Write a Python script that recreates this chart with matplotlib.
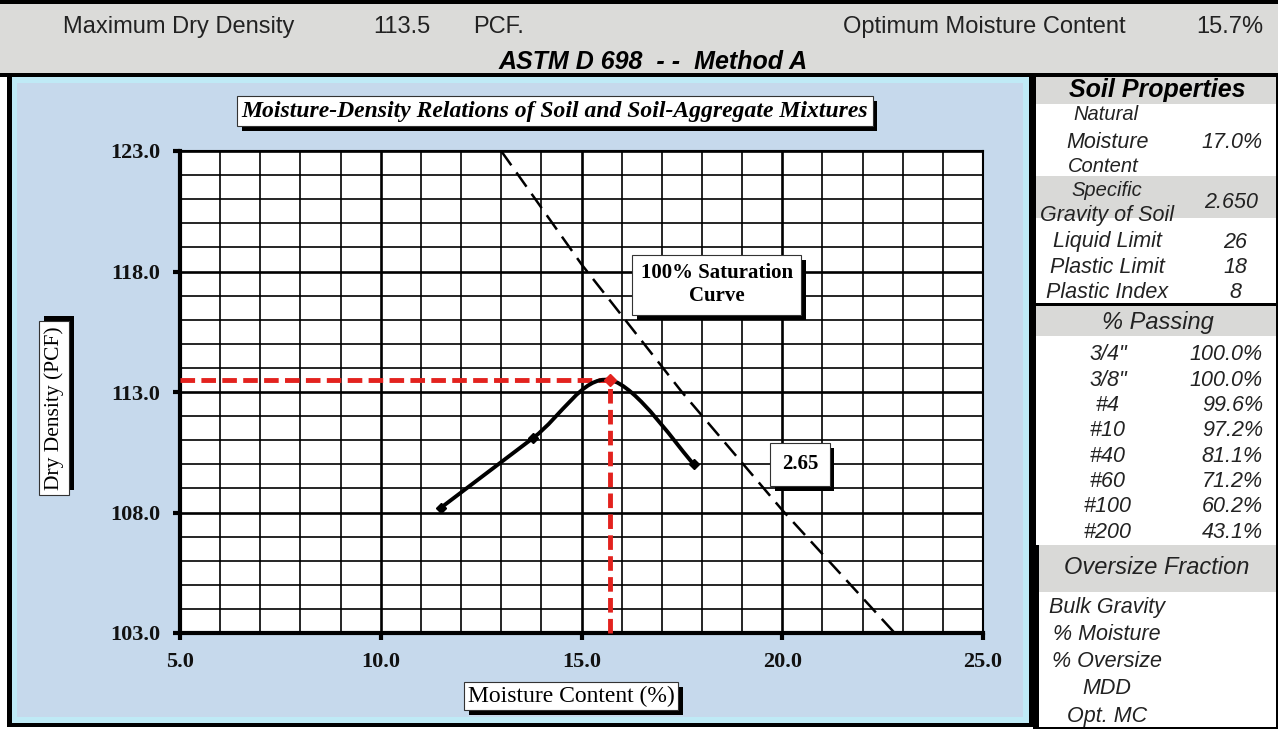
import matplotlib
matplotlib.use("Agg")
import matplotlib.pyplot as plt
import matplotlib.patheffects as pe
from matplotlib.patches import Rectangle, PathPatch
from matplotlib.path import Path
from matplotlib.ticker import MultipleLocator

# compaction test points
moisture = [11.5, 13.8, 15.7, 17.8]
dry_density = [108.2, 111.1, 113.5, 110.0]
max_dry_density = 113.5
opt_moisture = 15.7

# 100% saturation line (Gs = 2.65)
zav_moisture = [13.0, 15.0, 17.5, 20.0, 22.8]
zav_density = [123.0, 118.3, 113.0, 108.1, 103.0]

x_ticks = [5.0, 10.0, 15.0, 20.0, 25.0]
y_ticks = [103.0, 108.0, 113.0, 118.0, 123.0]

natural_moisture = "17.0%"
specific_gravity = "2.650"
limit_names = ["Liquid Limit", "Plastic Limit", "Plastic Index"]
limit_values = ["26", "18", "8"]
sieves = ['3/4"', '3/8"', "#4", "#10", "#40", "#60", "#100", "#200"]
passing = [100.0, 100.0, 99.6, 97.2, 81.1, 71.2, 60.2, 43.1]
oversize_rows = ["Bulk Gravity", "% Moisture", "% Oversize", "MDD", "Opt. MC"]

W, H = 1278, 729
SERIF = "Liberation Serif"
SANS = "Liberation Sans"
RED = "#E3221E"

fig = plt.figure(figsize=(W / 100, H / 100), dpi=100)
fig.patch.set_facecolor("white")


def rect(x0, y0, x1, y1, color, z=-5):
    # rectangle given in pixels, y measured from the top
    fig.add_artist(Rectangle((x0 / W, 1 - y1 / H), (x1 - x0) / W, (y1 - y0) / H,
                             transform=fig.transFigure, facecolor=color,
                             edgecolor="none", zorder=z))


def txt(x, y, s, **kw):
    kw.setdefault("va", "center")
    return fig.text(x / W, 1 - y / H, s, **kw)


def shadow(t, off=(3.5, -3.5)):
    t.get_bbox_patch().set_path_effects(
        [pe.SimplePatchShadow(offset=off, shadow_rgbFace="black", alpha=1.0), pe.Normal()])


def smooth_path(xs, ys):
    # smoothed line like a spreadsheet chart: cubic bezier through every point
    pts = list(zip(xs, ys))
    verts, codes = [pts[0]], [Path.MOVETO]
    for i in range(len(pts) - 1):
        p0 = pts[max(i - 1, 0)]
        p1, p2 = pts[i], pts[i + 1]
        p3 = pts[min(i + 2, len(pts) - 1)]
        c1 = (p1[0] + (p2[0] - p0[0]) / 6, p1[1] + (p2[1] - p0[1]) / 6)
        c2 = (p2[0] - (p3[0] - p1[0]) / 6, p2[1] - (p3[1] - p1[1]) / 6)
        verts += [c1, c2, p2]
        codes += [Path.CURVE4] * 3
    return Path(verts, codes)


# header band
rect(0, 0, W, 4, "black")
rect(0, 4, W, 73, "#DBDBD9")
rect(0, 73, W, 77, "black")
hk = dict(family=SANS, fontsize=17, color="#222222")
txt(63, 27, "Maximum Dry Density", **hk)
txt(373, 27, f"{max_dry_density}", **hk)
txt(473, 27, "PCF.", **hk)
txt(843, 27, "Optimum Moisture Content", **hk)
txt(1263, 27, f"{opt_moisture}%", ha="right", **hk)
txt(653, 62, "ASTM D 698  - -  Method A", family=SANS, fontsize=18,
    fontweight="bold", fontstyle="italic", ha="center")

# chart panel
rect(7, 73, 1033, 727, "black")
rect(12, 77, 1029, 723, "#BFEAF6")
rect(17, 83, 1023, 717, "#C6D9EC")

# right hand table
rect(1033, 77, W, 729, "black")
rect(1036, 77, W - 2, 727, "white")
rect(1036, 77, W - 2, 104, "#D9D9D7")
rect(1036, 176, W - 2, 218, "#D9D9D7")
rect(1036, 303, W, 306, "black")
rect(1036, 306, W - 2, 336, "#D9D9D7")
rect(1033, 545, 1039, 729, "black")
rect(1039, 545, W - 2, 592, "#D9D9D7")

tk = dict(family=SANS, fontsize=15.5, fontstyle="italic", color="#222222", ha="center")
tight = dict(tk, fontsize=14.5)
txt(1157, 90, "Soil Properties", family=SANS, fontsize=18, fontweight="bold",
    fontstyle="italic", ha="center")
txt(1106, 114, "Natural", **tight)
txt(1108, 142, "Moisture", **tk)
txt(1103, 167, "Content", **tight)
txt(1107, 190, "Specific", **tight)
txt(1107, 216, "Gravity of Soil", **tk)
txt(1232, 142, natural_moisture, **tk)
txt(1231, 203, specific_gravity, **tk)
for i, (name, val) in enumerate(zip(limit_names, limit_values)):
    y = 242 + i * 25.5
    txt(1107, y, name, **tk)
    txt(1235, y, val, **tk)

txt(1158, 322, "% Passing", family=SANS, fontsize=17, fontstyle="italic",
    color="#222222", ha="center")
for i, (s, p) in enumerate(zip(sieves, passing)):
    y = 355 + i * 25.3
    txt(1108, y, s, **tk)
    txt(1263, y, f"{p:.1f}%", family=SANS, fontsize=15.5, fontstyle="italic",
        color="#222222", ha="right")

txt(1157, 568, "Oversize Fraction", family=SANS, fontsize=17, fontstyle="italic",
    color="#222222", ha="center")
for i, name in enumerate(oversize_rows):
    txt(1107, 607 + i * 27.3, name, **tk)

# moisture-density plot
ax = fig.add_axes([180 / W, 1 - 633 / H, 803 / W, 482 / H])
ax.set_xlim(5, 25)
ax.set_ylim(103, 123)
ax.set_xticks(x_ticks)
ax.set_xticklabels([f"{v:.1f}" for v in x_ticks])
ax.set_yticks(y_ticks)
ax.set_yticklabels([f"{v:.1f}" for v in y_ticks])
ax.xaxis.set_minor_locator(MultipleLocator(1))
ax.yaxis.set_minor_locator(MultipleLocator(1))
ax.grid(which="major", color="black", lw=1.9)
ax.grid(which="minor", color="black", lw=1.2)
ax.set_axisbelow(True)
for side in ["left", "bottom"]:
    ax.spines[side].set_linewidth(3)
for side in ["top", "right"]:
    ax.spines[side].set_linewidth(1.5)
ax.tick_params(which="major", length=5, width=3, pad=9, direction="out")
ax.tick_params(which="minor", length=0)
for lab in ax.get_xticklabels() + ax.get_yticklabels():
    lab.set_family(SERIF)
    lab.set_fontweight("bold")
    lab.set_fontsize(16)
    lab.set_color("#111111")

ax.plot(zav_moisture, zav_density, color="black", lw=1.8, dashes=(7, 3.5), zorder=3)
ax.plot([5, opt_moisture], [max_dry_density, max_dry_density], color=RED, lw=3.5,
        dashes=(3, 1.3), zorder=4, clip_on=False)
ax.plot([opt_moisture, opt_moisture], [103, max_dry_density], color=RED, lw=3.5,
        dashes=(3, 1.3), zorder=4, clip_on=False)
ax.add_patch(PathPatch(smooth_path(moisture, dry_density), facecolor="none",
                       edgecolor="black", lw=2.8, zorder=5))
ax.plot(moisture, dry_density, ls="none", color="black", marker="D", ms=5, zorder=5)
ax.plot([opt_moisture], [max_dry_density], color=RED, marker="D", ms=6, zorder=6)

t = ax.text(18.37, 117.44, "100% Saturation\nCurve", family=SERIF, fontsize=15,
            fontweight="bold", ha="center", va="center", multialignment="center",
            bbox=dict(boxstyle="square,pad=0.4", fc="white", ec="#333333", lw=0.8),
            zorder=7)
shadow(t)
t = ax.text(20.44, 110.0, "2.65", family=SERIF, fontsize=15, fontweight="bold",
            ha="center", va="center",
            bbox=dict(boxstyle="square,pad=0.55", fc="white", ec="#333333", lw=0.8),
            zorder=7)
shadow(t)

# titles and axis labels in their boxes
t = txt(555, 111, "Moisture-Density Relations of Soil and Soil-Aggregate Mixtures",
        family=SERIF, fontsize=17, fontweight="bold", fontstyle="italic", ha="center",
        bbox=dict(boxstyle="square,pad=0.18", fc="white", ec="#333333", lw=0.8))
shadow(t)
t = txt(571, 696, "Moisture Content (%)", family=SERIF, fontsize=17, ha="center",
        bbox=dict(boxstyle="square,pad=0.15", fc="white", ec="#333333", lw=0.8))
shadow(t)
t = txt(54, 408, "Dry Density (PCF)", family=SERIF, fontsize=15.5, ha="center",
        rotation=90, bbox=dict(boxstyle="square,pad=0.25", fc="white", ec="#333333", lw=0.8))
shadow(t, off=(3.5, 3.5))

fig.savefig("out.png", dpi=100)
